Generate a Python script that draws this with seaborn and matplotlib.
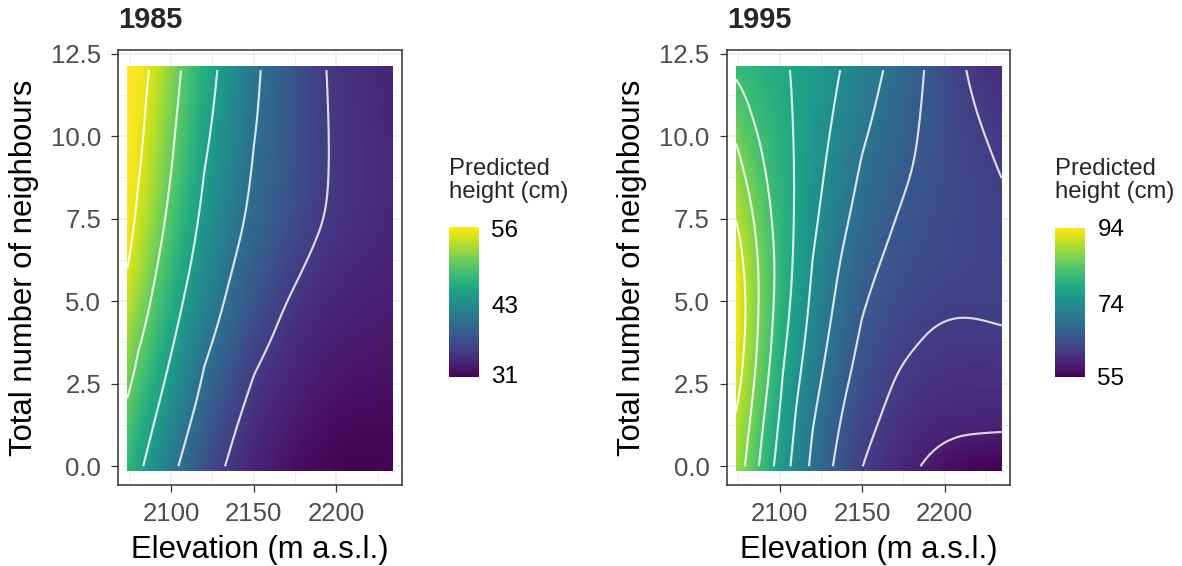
import numpy as np
import matplotlib
matplotlib.use("Agg")
import matplotlib.pyplot as plt
from matplotlib.colors import Normalize
from matplotlib.cm import ScalarMappable
import seaborn as sns

# ---------------------------------------------------------------------------
# Predicted height surfaces (cm) on an elevation x neighbour-count grid
# rows follow `neighbours`, columns follow the elevation list of each year
# ---------------------------------------------------------------------------
years = ["1985", "1995"]
neighbours = [0, 1.5, 3, 4.5, 6, 7.5, 9, 10.5, 12]

elevation_1985 = [2073.5, 2080, 2090, 2100, 2110, 2120, 2135, 2150, 2170, 2190, 2210, 2234]
height_1985 = [
    [47.5, 45.8, 43.3, 40.9, 38.8, 37.0, 34.5, 33.1, 31.8, 31.0, 30.6, 30.8],
    [49.2, 47.6, 45.1, 42.8, 40.5, 38.6, 35.7, 33.9, 32.6, 31.7, 31.2, 31.2],
    [51.3, 49.6, 47.0, 44.5, 42.3, 40.0, 37.5, 35.0, 33.5, 32.5, 32.0, 31.9],
    [53.2, 51.4, 48.8, 46.2, 43.8, 41.7, 39.0, 36.9, 34.3, 33.3, 32.8, 32.5],
    [55.2, 53.4, 50.3, 47.8, 45.3, 43.2, 40.2, 38.3, 35.8, 34.1, 33.5, 33.0],
    [56.0, 54.8, 51.8, 49.0, 46.5, 44.2, 41.4, 39.2, 37.2, 35.1, 34.1, 33.5],
    [56.1, 55.6, 52.9, 50.0, 47.7, 45.1, 42.3, 39.7, 37.6, 35.2, 34.2, 33.5],
    [56.2, 56.0, 53.7, 50.7, 48.3, 46.0, 43.0, 40.2, 37.8, 35.2, 34.1, 33.4],
    [56.2, 56.1, 54.5, 51.7, 48.8, 46.7, 43.5, 40.6, 37.7, 35.1, 34.0, 33.2],
]

elevation_1995 = [2073.5, 2078, 2084, 2090, 2096, 2102, 2110, 2120, 2135, 2150, 2170, 2190, 2210, 2234.5]
height_1995 = [
    [88.5, 86.6, 83.6, 80.8, 78.2, 75.8, 72.7, 69.3, 65.2, 61.9, 59.6, 57.5, 55.6, 55.0],
    [89.6, 88.1, 85.2, 82.2, 79.6, 77.0, 73.8, 70.4, 66.4, 63.3, 60.9, 59.7, 59.5, 59.6],
    [92.3, 90.0, 86.8, 83.9, 81.1, 78.2, 75.1, 71.8, 67.7, 64.9, 61.9, 61.0, 60.6, 60.5],
    [93.9, 91.0, 87.6, 84.7, 82.1, 79.5, 76.4, 73.0, 69.0, 65.8, 63.9, 62.15, 61.85, 62.45],
    [93.2, 90.4, 87.5, 84.9, 82.5, 80.2, 77.3, 73.9, 70.1, 67.0, 64.8, 64.0, 63.4, 62.8],
    [89.7, 88.2, 86.2, 83.9, 81.7, 80.0, 77.7, 74.9, 71.3, 68.6, 65.8, 64.4, 63.4, 62.6],
    [87.6, 86.2, 84.2, 82.2, 80.8, 79.5, 77.8, 75.6, 72.4, 69.6, 67.0, 65.1, 63.6, 61.9],
    [84.6, 83.4, 81.8, 80.9, 79.9, 79.0, 77.7, 76.0, 73.5, 70.9, 67.9, 65.3, 62.9, 60.9],
    [81.4, 80.9, 80.3, 79.6, 78.9, 78.5, 77.6, 76.3, 74.3, 72.0, 68.9, 65.6, 62.2, 59.8],
]

contour_levels_1985 = [35, 40, 45, 50, 55]
contour_levels_1995 = [58, 62, 66, 70, 74, 78, 82, 86, 90]
legend_breaks_1985 = [31, 43, 56]
legend_breaks_1995 = [55, 74, 94]

x_ticks = [2100, 2150, 2200]
x_minor = [2075, 2125, 2175, 2225]
y_ticks = [0.0, 2.5, 5.0, 7.5, 10.0, 12.5]
y_minor = [1.25, 3.75, 6.25, 8.75, 11.25]

# ---------------------------------------------------------------------------
sns.set_theme(style="whitegrid")
plt.rcParams["font.family"] = ["Liberation Sans", "DejaVu Sans"]
cmap = sns.color_palette("viridis", as_cmap=True)

W, H = 1182, 566
fig = plt.figure(figsize=(W / 100, H / 100), dpi=100)
fig.patch.set_facecolor("white")


def add_px_axes(left, top, right, bottom):
    return fig.add_axes([left / W, 1 - bottom / H, (right - left) / W, (bottom - top) / H])


def blur_axis(a, sigma, axis):
    r = int(3 * sigma) + 1
    k = np.exp(-0.5 * (np.arange(-r, r + 1) / sigma) ** 2)
    k /= k.sum()
    pad = [(0, 0), (0, 0)]
    pad[axis] = (r, r)
    ap = np.pad(a, pad, mode="reflect", reflect_type="odd")
    return np.apply_along_axis(lambda m: np.convolve(m, k, mode="valid"), axis, ap)


def smooth_field(elev, nb, z, n_fine=400, sigma_cells=0.4):
    """Bilinear surface through the grid values, softened in grid-index space."""
    ncol, nrow = len(elev), len(nb)
    u = np.linspace(0, ncol - 1, n_fine)
    v = np.linspace(0, nrow - 1, n_fine)
    rows = np.array([np.interp(u, np.arange(ncol), z[i]) for i in range(nrow)])
    field = np.array([np.interp(v, np.arange(nrow), rows[:, j]) for j in range(n_fine)]).T
    field = blur_axis(field, sigma_cells * (n_fine - 1) / (ncol - 1), axis=1)
    field = blur_axis(field, sigma_cells * (n_fine - 1) / (nrow - 1), axis=0)
    xs = np.interp(u, np.arange(ncol), elev)
    ys = np.interp(v, np.arange(nrow), nb)
    return xs, ys, field


panels = [
    dict(year=years[0], elev=elevation_1985, z=height_1985, levels=contour_levels_1985,
         breaks=legend_breaks_1985, box=(118.3, 50, 401.7, 485.4), bar=(449, 227.3, 479.3, 376.7)),
    dict(year=years[1], elev=elevation_1995, z=height_1995, levels=contour_levels_1995,
         breaks=legend_breaks_1995, box=(726.7, 50, 1009.9, 485.4), bar=(1055, 227.3, 1085.3, 376.7)),
]

raster_bottom, raster_top = -0.15, 12.1
border = "#333333"

for p in panels:
    ax = add_px_axes(*p["box"])
    cax = add_px_axes(*p["bar"])

    elev = np.asarray(p["elev"], dtype=float)
    nb = np.asarray(neighbours, dtype=float)
    z = np.asarray(p["z"], dtype=float)
    norm = Normalize(vmin=z.min(), vmax=z.max())

    xs, ys, field = smooth_field(elev, nb, z)

    # raster on an even elevation spacing; tiles reach half a cell past the outer rows
    xu = np.linspace(elev[0], elev[-1], 500)
    img = np.array([np.interp(xu, xs, row) for row in field])
    img = np.vstack([img[:1], img, img[-1:]])
    ax.imshow(img, extent=[elev[0], elev[-1], raster_bottom, raster_top], origin="lower",
              aspect="auto", interpolation="bilinear", cmap=cmap, norm=norm, zorder=1)

    ax.contour(xs, ys, field, levels=p["levels"], colors="white", linewidths=1.55,
               alpha=0.82, zorder=2)

    ax.set_xlim(2068, 2239.5)
    ax.set_ylim(-0.58, 12.61)
    ax.set_facecolor("white")
    ax.set_axisbelow(True)
    ax.set_xticks(x_ticks)
    ax.set_xticklabels([str(v) for v in x_ticks])
    ax.set_yticks(y_ticks)
    ax.set_yticklabels([f"{v:.1f}" for v in y_ticks])
    ax.set_xticks(x_minor, minor=True)
    ax.set_yticks(y_minor, minor=True)
    ax.grid(True, which="major", color="#EBEBEB", linewidth=1.1)
    ax.grid(True, which="minor", color="#EBEBEB", linewidth=0.55)
    ax.tick_params(which="major", direction="out", length=4.8, width=0.9, color=border,
                   labelsize=18.5, labelcolor="#4D4D4D", pad=7.5, bottom=True, left=True)
    ax.tick_params(which="minor", length=0)
    for s in ax.spines.values():
        s.set_visible(True)
        s.set_color(border)
        s.set_linewidth(1.1)

    ax.set_xlabel("Elevation (m a.s.l.)", fontsize=22.3, color="black")
    ax.set_ylabel("Total number of neighbours", fontsize=22.3, color="black")
    ax.xaxis.set_label_coords(0.5, -0.114)
    ax.yaxis.set_label_coords(-0.28, 0.5)

    ax.text(0.0, 1 + (50 - 28.5) / 435.4, p["year"], transform=ax.transAxes,
            fontsize=20.8, fontweight="bold", ha="left", va="baseline")

    # colour legend
    cb = fig.colorbar(ScalarMappable(norm=norm, cmap=cmap), cax=cax)
    cb.outline.set_visible(False)
    cb.set_ticks(p["breaks"])
    cb.set_ticklabels([str(b) for b in p["breaks"]])
    cax.grid(False)
    cax.tick_params(which="major", direction="in", length=4.3, width=0.9, color="white",
                    left=True, right=True, labelleft=False, labelright=True,
                    labelsize=17.5, labelcolor="black", pad=8.7)
    cax.tick_params(which="minor", length=0)
    bx = p["bar"][0]
    fig.text(bx / W, 1 - 158 / H, "Predicted\nheight (cm)", fontsize=17.2,
             ha="left", va="top", linespacing=1.05)

fig.savefig("out.png", dpi=100, facecolor="white")
